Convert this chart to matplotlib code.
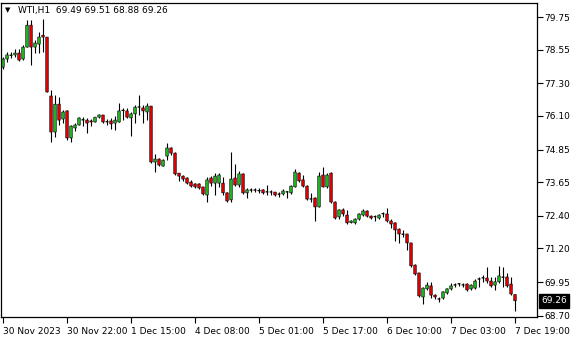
import matplotlib
matplotlib.use('Agg')
import matplotlib.pyplot as plt
import matplotlib.transforms as mtransforms
import numpy as np

symbol = "WTI,H1"
last_ohlc_text = "69.49 69.51 68.88 69.26"
last_price = 69.26

opens = [77.90, 78.20, 78.33, 78.35, 78.42, 78.20, 78.64, 79.45, 78.64, 78.75,
         79.08, 79.01, 76.83, 75.50, 76.53, 75.98, 76.28, 75.28, 75.65, 75.76,
         75.94, 75.94, 75.91, 75.87, 76.05, 76.13, 75.87, 75.91, 75.83, 75.87,
         76.31, 76.28, 76.02, 76.17, 76.42, 76.39, 76.24, 76.46, 74.39, 74.50,
         74.24, 74.61, 74.91, 74.72, 73.98, 73.87, 73.80, 73.65, 73.58, 73.58,
         73.47, 73.17, 73.80, 73.61, 73.61, 73.61, 73.25, 72.99, 73.80, 73.54,
         73.95, 73.25, 73.36, 73.36, 73.34, 73.36, 73.28, 73.28, 73.28, 73.21,
         73.21, 73.28, 73.25, 73.47, 73.98, 73.73, 73.50, 73.02, 73.06, 72.73,
         73.91, 73.47, 73.98, 72.91, 72.36, 72.62, 72.43, 72.15, 72.14, 72.28,
         72.43, 72.58, 72.39, 72.36, 72.32, 72.47, 72.47, 72.21, 72.14, 71.91,
         71.73, 71.73, 71.40, 70.58, 70.29, 69.40, 69.70, 69.81, 69.47, 69.33,
         69.36, 69.55, 69.70, 69.84, 69.88, 69.84, 69.88, 69.70, 69.73, 70.07,
         70.10, 70.10, 69.99, 69.84, 69.96, 70.14, 70.14, 69.88, 69.49]
highs = [78.27, 78.46, 78.46, 78.57, 78.57, 78.71, 79.64, 79.64, 78.90, 79.20,
         79.68, 79.01, 77.05, 76.87, 76.79, 76.31, 76.31, 75.76, 75.83, 76.05,
         76.05, 76.02, 75.98, 76.06, 76.17, 76.13, 75.98, 76.02, 76.09, 76.57,
         76.39, 76.39, 76.24, 76.50, 76.87, 76.50, 76.57, 76.46, 74.69, 74.54,
         74.50, 75.09, 74.95, 74.76, 73.98, 73.91, 73.84, 73.73, 73.61, 73.61,
         73.47, 73.84, 73.87, 73.98, 73.98, 73.84, 73.28, 74.76, 74.32, 74.06,
         73.98, 73.43, 73.43, 73.43, 73.43, 73.39, 73.54, 73.36, 73.28, 73.28,
         73.39, 73.32, 73.54, 74.13, 74.02, 73.91, 73.54, 73.25, 73.10, 74.02,
         74.21, 73.98, 74.02, 72.95, 72.65, 72.69, 72.62, 72.25, 72.32, 72.51,
         72.65, 72.62, 72.43, 72.43, 72.47, 72.54, 72.69, 72.28, 72.17, 71.95,
         71.88, 71.73, 71.40, 70.62, 70.29, 69.77, 69.96, 69.96, 69.51, 69.40,
         69.62, 69.73, 69.92, 69.92, 69.92, 69.92, 69.92, 69.88, 70.07, 70.14,
         70.21, 70.51, 70.14, 70.14, 70.55, 70.51, 70.29, 70.14, 69.51]
lows = [77.83, 78.09, 78.23, 78.27, 78.12, 78.16, 78.64, 77.98, 78.42, 78.42,
        78.46, 76.98, 75.13, 75.31, 75.76, 75.83, 75.20, 75.13, 75.54, 75.76,
        75.72, 75.46, 75.72, 75.87, 76.02, 75.85, 75.76, 75.61, 75.57, 75.87,
        75.94, 76.02, 75.35, 75.83, 76.13, 75.83, 75.94, 74.35, 74.02, 74.24,
        74.24, 74.46, 74.65, 73.91, 73.69, 73.69, 73.58, 73.47, 73.43, 73.39,
        73.17, 72.91, 73.50, 73.17, 73.47, 73.17, 72.91, 72.91, 73.50, 73.47,
        73.21, 73.06, 73.28, 73.28, 73.25, 73.21, 73.17, 73.17, 73.13, 73.10,
        73.17, 73.06, 73.21, 73.47, 73.65, 73.47, 72.99, 72.91, 72.21, 72.73,
        73.47, 73.43, 72.88, 72.28, 72.28, 72.39, 72.10, 72.14, 72.10, 72.25,
        72.39, 72.36, 72.28, 72.21, 72.28, 72.36, 72.17, 71.95, 71.47, 71.40,
        71.62, 71.14, 70.51, 70.23, 69.40, 69.14, 69.66, 69.36, 69.33, 69.22,
        69.33, 69.51, 69.66, 69.77, 69.81, 69.77, 69.62, 69.66, 69.70, 69.77,
        69.96, 69.92, 69.77, 69.66, 69.92, 69.77, 69.77, 69.47, 68.88]
closes = [78.20, 78.35, 78.35, 78.42, 78.16, 78.64, 79.45, 78.64, 78.79, 79.01,
          79.01, 76.98, 75.50, 76.53, 75.94, 76.24, 75.28, 75.72, 75.76, 76.02,
          75.96, 75.83, 75.87, 76.05, 76.13, 75.87, 75.88, 75.80, 75.94, 76.28,
          76.29, 76.05, 76.17, 76.42, 76.43, 76.28, 76.46, 74.39, 74.50, 74.28,
          74.46, 74.91, 74.72, 73.95, 73.87, 73.76, 73.61, 73.50, 73.47, 73.43,
          73.21, 73.73, 73.61, 73.87, 73.91, 73.25, 72.95, 73.76, 73.54, 73.95,
          73.25, 73.36, 73.35, 73.35, 73.32, 73.25, 73.29, 73.28, 73.17, 73.20,
          73.32, 73.29, 73.50, 74.02, 73.69, 73.50, 73.02, 73.03, 72.73, 73.87,
          73.47, 73.91, 72.91, 72.32, 72.62, 72.47, 72.14, 72.21, 72.28, 72.47,
          72.58, 72.39, 72.32, 72.37, 72.43, 72.48, 72.21, 72.10, 71.88, 71.73,
          71.72, 71.40, 70.55, 70.25, 69.44, 69.73, 69.84, 69.47, 69.40, 69.32,
          69.59, 69.70, 69.81, 69.85, 69.89, 69.85, 69.66, 69.84, 69.99, 70.06,
          70.11, 69.99, 69.81, 69.96, 70.18, 70.13, 69.81, 69.51, 69.26]

x_label_idx = [0, 16, 32, 48, 64, 80, 96, 112, 128]
x_labels = ["30 Nov 2023", "30 Nov 22:00", "1 Dec 15:00", "4 Dec 08:00",
            "5 Dec 01:00", "5 Dec 17:00", "6 Dec 10:00", "7 Dec 03:00",
            "7 Dec 19:00"]
y_ticks = [79.75, 78.55, 77.30, 76.10, 74.85, 73.65, 72.40, 71.20, 69.95, 68.70]
y_tick_labels = ["79.75", "78.55", "77.30", "76.10", "74.85", "73.65",
                 "72.40", "71.20", "69.95", "68.70"]

W, H = 580, 340
AX_L, AX_B, AX_W, AX_H = 1, 23, 536, 314
fig = plt.figure(figsize=(W / 100, H / 100), dpi=100)
ax = fig.add_axes([AX_L / W, AX_B / H, AX_W / W, AX_H / H])

YMIN, YMAX = 68.66, 80.27
XMIN = -0.5
XMAX = XMIN + AX_W / 4.0
ax.set_xlim(XMIN, XMAX)
ax.set_ylim(YMIN, YMAX)

o = np.array(opens); h = np.array(highs); l = np.array(lows); c = np.array(closes)
idx = np.arange(len(o))
up = c >= o
lo_b = np.minimum(o, c)
hi_b = np.maximum(o, c)
body = np.maximum(hi_b - lo_b, 0.004)

ax.vlines(idx, l, h, color='black', linewidth=0.8, zorder=1)
ax.bar(idx[up], body[up], bottom=lo_b[up], width=0.62,
       facecolor='#22c022', edgecolor='black', linewidth=0.45, zorder=2,
       snap=False)
ax.bar(idx[~up], body[~up], bottom=lo_b[~up], width=0.62,
       facecolor='#ee0000', edgecolor='black', linewidth=0.45, zorder=2,
       snap=False)

for s in ax.spines.values():
    s.set_color('black')
    s.set_linewidth(0.9)

ax.yaxis.tick_right()
ax.set_yticks(y_ticks)
ax.set_yticklabels(y_tick_labels)
ax.tick_params(axis='y', direction='out', length=4, width=0.8, pad=1,
               labelsize=6.5, colors='black')
ax.set_xticks(x_label_idx)
ax.set_xticklabels(x_labels)
ax.tick_params(axis='x', direction='out', length=4, width=0.8, pad=3,
               labelsize=6.5, colors='black')
for lbl in ax.get_xticklabels():
    lbl.set_horizontalalignment('left')

trans = mtransforms.blended_transform_factory(ax.transAxes, ax.transData)
ax.text(1.0 + 4 / AX_W, last_price, f"{last_price:.2f}", transform=trans,
        ha='left', va='center', fontsize=6.5, color='white',
        bbox=dict(boxstyle='square,pad=0.25', fc='black', ec='black'),
        clip_on=False)

fig.text(5 / W, 1 - 10 / H, "\u25BC", fontsize=5, va='center', ha='left', color='black')
fig.text(18 / W, 1 - 10 / H, symbol + "  " + last_ohlc_text, fontsize=6.5,
         va='center', ha='left', color='black')

fig.savefig('out.png', dpi=100)
